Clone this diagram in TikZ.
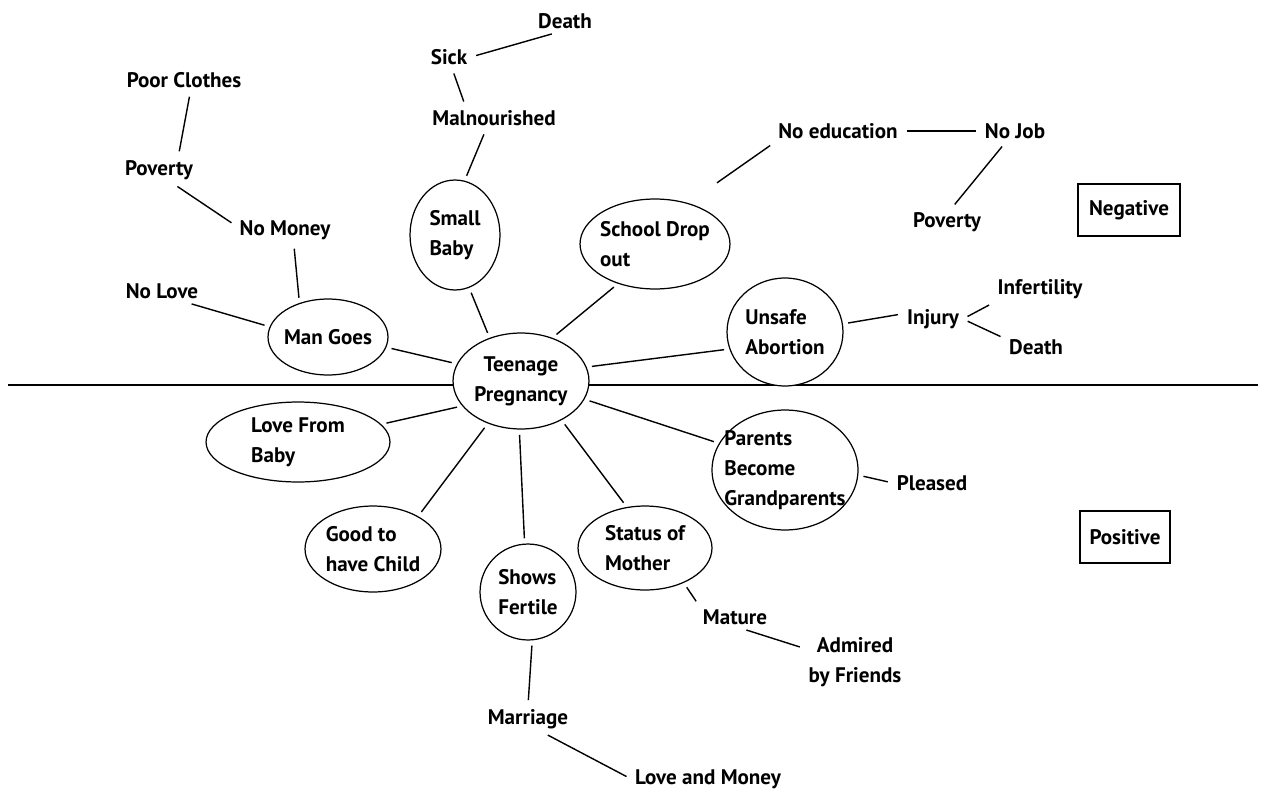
\documentclass[tikz,border=0pt]{standalone}
\usepackage{fontspec}
\setmainfont{PT Sans}
\usetikzlibrary{shapes.geometric}

\tikzset{
	word/.style={font=\bfseries\fontsize{12}{17}\selectfont, inner sep=2pt},
	inword/.style={word, align=left},
	bubble/.style 2 args={ellipse, draw, fill=white, line width=0.7pt, inner sep=0pt, minimum width=#1*0.04cm, minimum height=#2*0.04cm},
	link/.style={line width=0.8pt, shorten <=3pt, shorten >=3pt},
	tagbox/.style={word, draw, line width=0.8pt, minimum height=1.04cm},
}

\begin{document}
\begin{tikzpicture}[x={(0.02cm,0)}, y={(0,-0.02cm)}]
	\useasboundingbox (0,0) rectangle (1266,794);
	\draw[line width=0.8pt] (8,385) -- (1258,385); % negative / positive split

	% bubbles
	\node[bubble={68}{48}, label={[word, align=center]center:{Teenage\\Pregnancy}}] (teen) at (521,381) {};
	\node[bubble={60}{38}, label={[inword]center:{Man Goes}}] (man) at (328,337) {};
	\node[bubble={45}{55}, label={[inword]center:{Small\\Baby}}] (small) at (455,235) {};
	\node[bubble={75}{45}, label={[inword]center:{School Drop\\out}}] (school) at (655,244) {};
	\node[bubble={58}{54}, label={[inword]center:{Unsafe\\Abortion}}] (unsafe) at (785,332) {};
	\node[bubble={92}{40}, label={[inword]center:{Love From\\Baby}}] (lovebaby) at (298,442) {};
	\node[bubble={68}{43}, label={[inword]center:{Good to\\have Child}}] (goodchild) at (373,549) {};
	\node[bubble={48}{48}, label={[inword]center:{Shows\\Fertile}}] (fertile) at (528,592) {};
	\node[bubble={67}{42}, label={[inword]center:{Status of\\Mother}}] (status) at (645,548) {};
	\node[bubble={73}{60}, label={[inword]center:{Parents\\Become\\Grandparents}}] (grand) at (785,470) {};

	% plain words
	\node[word] (deathtop) at (565,21) {Death};
	\node[word] (sick) at (449,57) {Sick};
	\node[word] (maln) at (494,118) {Malnourished};
	\node[word] (poorcl) at (184,80) {Poor Clothes};
	\node[word] (povleft) at (159,170) {Poverty};
	\node[word] (nomoney) at (285,230) {No Money};
	\node[word] (nolove) at (162,291) {No Love};
	\node[word] (noedu) at (838,131) {No education};
	\node[word] (nojob) at (1015,131) {No Job};
	\node[word] (povright) at (947,222) {Poverty};
	\node[word] (infert) at (1040,289) {Infertility};
	\node[word] (injury) at (933,319) {Injury};
	\node[word] (deathinj) at (1036,347) {Death};
	\node[word] (pleased) at (932,483) {Pleased};
	\node[word] (mature) at (735,617) {Mature};
	\node[word, align=center] (admired) at (855,662) {Admired\\by Friends};
	\node[word] (marriage) at (528,719) {Marriage};
	\node[word] (lovemoney) at (708,779) {Love and Money};

	\node[tagbox, minimum width=2.04cm] (neg) at (1129,210) {Negative};
	\node[tagbox, minimum width=1.8cm] (pos) at (1125,537) {Positive};

	% links
	\draw[link] (sick.east) -- (deathtop.235);
	\draw[link] (sick.-75) -- (maln.158);
	\draw[link] (maln.-125) -- (small.80);
	\draw[link] (small.-75) -- (teen.126);
	\draw[link] (poorcl.-61) -- (povleft.35);
	\draw[link] (povleft.-44) -- (nomoney.175);
	\draw[link] (nomoney.-57) -- (man.130);
	\draw[link] (nolove.-25) -- (man.170);
	\draw[link] (man.-10) -- (teen.165);
	\draw[link] (school.-133) -- (teen.54);
	\draw[link, shorten <=20pt] (school.51) -- (noedu.south west);
	\draw[link] (noedu.east) -- (nojob.west);
	\draw[link] (nojob.-130) -- (povright.72);
	\draw[link] (unsafe.-163) -- (teen.12);
	\draw[link] (unsafe.8) -- (injury.170);
	\draw[link] (injury.east) -- (infert.south west);
	\draw[link] (injury.east) -- (deathinj.165);
	\draw[link] (teen.-157) -- (lovebaby.12);
	\draw[link] (teen.-128) -- (goodchild.36);
	\draw[link] (teen.-92) -- (fertile.94);
	\draw[link] (teen.-44) -- (status.114);
	\draw[link] (teen.-16) -- (grand.158);
	\draw[link] (grand.-4) -- (pleased.west);
	\draw[link] (status.-42) -- (mature.north west);
	\draw[link] (mature.-61) -- (admired.165);
	\draw[link] (fertile.-85) -- (marriage.north);
	\draw[link] (marriage.-42) -- (lovemoney.west);
\end{tikzpicture}
\end{document}
